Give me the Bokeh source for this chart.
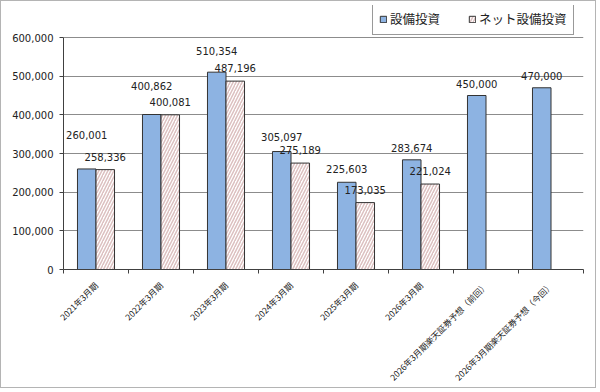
from math import pi
from bokeh.plotting import figure
from bokeh.models import (ColumnDataSource, Range1d, FixedTicker, NumeralTickFormatter,
                          Legend, LegendItem)
from bokeh.core.properties import value
from bokeh.embed import file_html
from bokeh.resources import INLINE

# ---- data ----
categories = ["2021年3月期", "2022年3月期", "2023年3月期", "2024年3月期", "2025年3月期",
              "2026年3月期", "2026年3月期楽天証券予想（前回）", "2026年3月期楽天証券予想（今回）"]
capex = [260001, 400862, 510354, 305097, 225603, 283674, 450000, 470000]
net_capex = [258336, 400081, 487196, 275189, 173035, 221024, None, None]
series_names = ["設備投資", "ネット設備投資"]
y_ticks = [0, 100000, 200000, 300000, 400000, 500000, 600000]

# ---- styles ----
BLUE = "#8DB3E2"
EDGE = "#333333"
HATCH = "#dcc0c0"
TXT = "#222222"
NUM_FONT = "DejaVu Sans"
JP_FONT = "Noto Sans CJK JP"
bar_w = 0.285
blue_label_gap = [34, 29, 21, 15, 13, 12, 12, 12]   # px above bar top (label placement)
net_label_gap = 13

# layout (px): plot area for the axis values is 232 px tall; 32 px extra on top hold the legend
AXIS_PX = 232
TOP_PX = 32
y_max = y_ticks[-1]
y_end = y_max * (AXIS_PX + TOP_PX) / AXIS_PX

n = len(categories)
centers = [i + 0.5 for i in range(n)]

blue_src = ColumnDataSource(dict(
    x=[c - bar_w / 2 for c in centers],
    top=capex,
    label=[f"{v:,}" for v in capex],
    off=[-g for g in blue_label_gap],
))
net_idx = [i for i, v in enumerate(net_capex) if v is not None]
net_src = ColumnDataSource(dict(
    x=[centers[i] + bar_w / 2 for i in net_idx],
    top=[net_capex[i] for i in net_idx],
    label=[f"{net_capex[i]:,}" for i in net_idx],
))

p = figure(width=596, height=388, x_range=Range1d(0, n), y_range=Range1d(0, y_end),
           output_backend="svg", toolbar_location=None,
           min_border_left=62, min_border_right=14, min_border_top=4, min_border_bottom=120)
p.styles = {"border": "1px solid #b4b4b4"}
p.outline_line_color = None
p.background_fill_color = "white"
p.border_fill_color = "white"

r_blue = p.vbar(x="x", top="top", bottom=0, width=bar_w, source=blue_src,
                fill_color=BLUE, line_color=EDGE, line_width=1)
r_net = p.vbar(x="x", top="top", bottom=0, width=bar_w, source=net_src,
               fill_color="white", line_color=EDGE, line_width=1,
               hatch_pattern="/", hatch_color=HATCH, hatch_scale=6, hatch_weight=1.5)

p.text(x="x", y="top", text="label", source=blue_src, y_offset="off",
       text_align="center", text_baseline="middle", text_font=value(NUM_FONT),
       text_font_size="10px", text_color=TXT)
p.text(x="x", y="top", text="label", source=net_src, y_offset=-net_label_gap,
       text_align="center", text_baseline="middle", text_font=value(NUM_FONT),
       text_font_size="10px", text_color=TXT)

# grid
p.xgrid.visible = False
p.ygrid.ticker = FixedTicker(ticks=y_ticks)
p.ygrid.grid_line_color = "#8c8c8c"
p.ygrid.grid_line_width = 1

# y axis
p.yaxis.ticker = FixedTicker(ticks=y_ticks)
p.yaxis.bounds = (0, y_max)
p.yaxis.formatter = NumeralTickFormatter(format="0,0")
p.yaxis.major_label_text_font = NUM_FONT
p.yaxis.major_label_text_font_size = "10px"
p.yaxis.major_label_text_color = TXT
p.yaxis.axis_line_color = "#404040"
p.yaxis.major_tick_line_color = "#404040"
p.yaxis.major_tick_out = 4
p.yaxis.major_tick_in = 0
p.yaxis.minor_tick_line_color = None
p.yaxis.major_label_standoff = 6

# x axis
p.xaxis.ticker = FixedTicker(ticks=centers, minor_ticks=list(range(n + 1)))
p.xaxis.major_label_overrides = {c: cat for c, cat in zip(centers, categories)}
p.xaxis.major_label_orientation = pi / 4
p.xaxis.major_label_text_font = JP_FONT
p.xaxis.major_label_text_font_size = "8.5px"
p.xaxis.major_label_text_color = TXT
p.xaxis.axis_line_color = "#404040"
p.xaxis.major_tick_line_color = None
p.xaxis.major_tick_out = 0
p.xaxis.major_tick_in = 0
p.xaxis.minor_tick_line_color = "#404040"
p.xaxis.minor_tick_out = 4
p.xaxis.minor_tick_in = 0
p.xaxis.major_label_standoff = 10

# legend (in the top strip of the plot area, above the 600,000 line)
legend = Legend(items=[LegendItem(label=series_names[0], renderers=[r_blue]),
                       LegendItem(label=series_names[1], renderers=[r_net])],
                location=(309, AXIS_PX + 2), orientation="horizontal",
                border_line_color="#333333", border_line_width=1.2,
                background_fill_color="white",
                glyph_width=8, glyph_height=8, label_standoff=3, spacing=28,
                padding=6, margin=0, label_height=13,
                label_text_font=JP_FONT, label_text_font_size="12.5px", label_text_color=TXT)
p.add_layout(legend, "center")

open("out.html", "w").write(file_html(p, INLINE))
